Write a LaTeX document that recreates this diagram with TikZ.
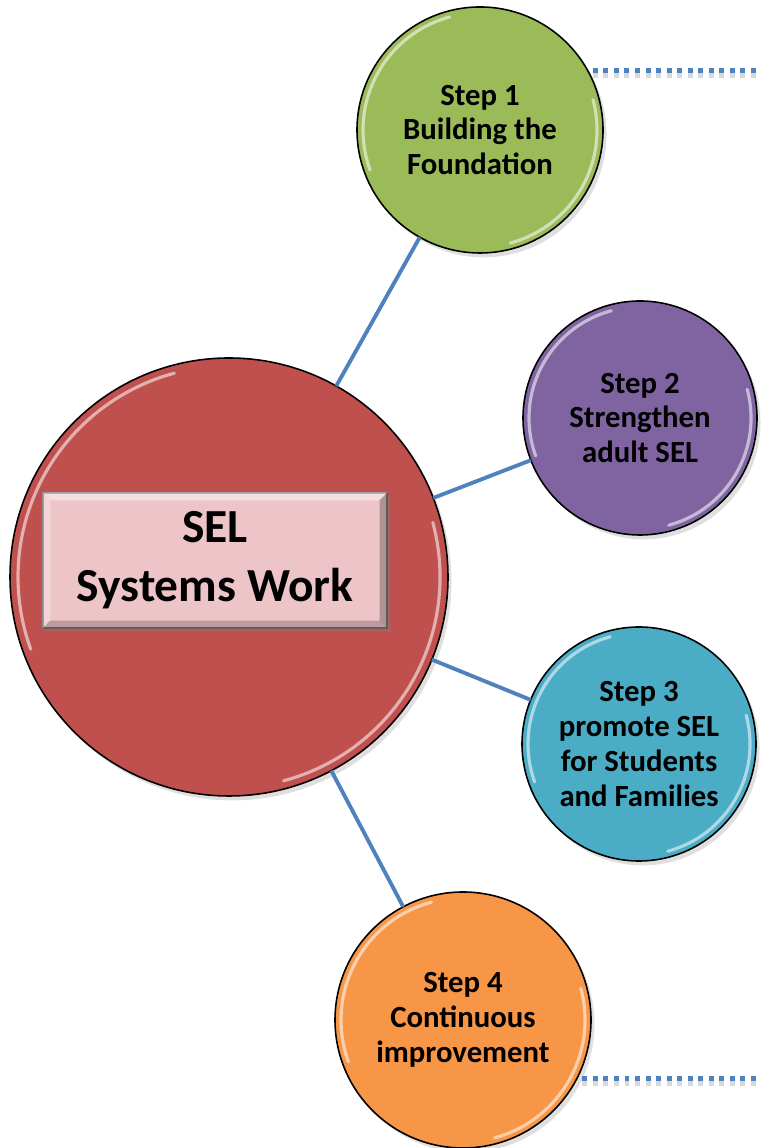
\documentclass[tikz,border=0pt]{standalone}
\usepackage{fontspec}
\setmainfont{Carlito}
\usetikzlibrary{shadows}

\definecolor{stepgreen}{HTML}{9BBB59}
\definecolor{steppurple}{HTML}{8064A2}
\definecolor{stepteal}{HTML}{4BACC6}
\definecolor{steporange}{HTML}{F79646}
\definecolor{hubred}{HTML}{C0504D}
\definecolor{linkblue}{HTML}{4F81BD}
\definecolor{plate}{HTML}{EDC4C7}

\begin{document}
\begin{tikzpicture}[
 bubble/.style={circle,draw=black,line width=0.9pt,inner sep=0pt,outer sep=0pt,align=center,
   font=\fontsize{17.5}{19.8}\selectfont\bfseries,
   drop shadow={shadow xshift=2pt,shadow yshift=-2.5pt,opacity=0.25}},
 platebox/.style={rectangle,fill=plate,draw=black!55,line width=0.6pt,inner sep=0pt,
   minimum width=6.88cm,minimum height=2.70cm,align=center,
   font=\fontsize{27}{33.5}\selectfont\bfseries,
   drop shadow={shadow xshift=2pt,shadow yshift=-2pt,opacity=0.3}},
 link/.style={draw=linkblue,line width=2.2pt},
 dots/.style={draw=linkblue,line width=2.8pt,dash pattern=on 2.8pt off 3.2pt},
 gloss/.style={white,opacity=0.55,line width=1.8pt,line cap=round}]
\useasboundingbox (0,0) rectangle (15.22,22.96);

% hub and the four steps
\node[bubble,fill=hubred,minimum size=8.76cm] (hub) at (4.58,11.42) {};
\node[bubble,fill=stepgreen,minimum size=4.92cm] (s1) at (9.60,20.36) {Step 1\\Building the\\Foundation};
\node[bubble,fill=steppurple,minimum size=4.68cm] (s2) at (12.80,14.60) {Step 2\\Strengthen\\adult SEL};
\node[bubble,fill=stepteal,minimum size=4.68cm] (s3) at (12.78,8.08) {Step 3\\promote SEL\\for Students\\and Families};
\node[bubble,fill=steporange,minimum size=5.12cm] (s4) at (9.26,2.56) {Step 4\\Continuous\\improvement};

\foreach \n/\r in {hub/4.22,s1/2.34,s2/2.22,s3/2.22,s4/2.44}{
  \draw[gloss] (\n.center) ++(105:\r) arc[start angle=105,end angle=200,radius=\r];
  \draw[gloss] (\n.center) ++(-75:\r) arc[start angle=-75,end angle=15,radius=\r];
}

% bevelled title plate
\node[platebox] (core) at (4.30,11.75) {SEL\\Systems Work};
\fill[white,opacity=0.45] (core.north west) -- (core.north east) -- ([shift={(-0.16,-0.16)}]core.north east) -- ([shift={(0.16,-0.16)}]core.north west) -- cycle;
\fill[white,opacity=0.3] (core.north west) -- ([shift={(0.16,-0.16)}]core.north west) -- ([shift={(0.16,0.16)}]core.south west) -- (core.south west) -- cycle;
\fill[black,opacity=0.2] (core.south west) -- (core.south east) -- ([shift={(-0.16,0.16)}]core.south east) -- ([shift={(0.16,0.16)}]core.south west) -- cycle;
\fill[black,opacity=0.25] (core.north east) -- ([shift={(-0.16,-0.16)}]core.north east) -- ([shift={(-0.16,0.16)}]core.south east) -- (core.south east) -- cycle;

\foreach \s in {s1,s2,s3,s4}
  \draw[link] (hub) -- (\s);

% dotted leaders running off the page
\coordinate (edge1) at (15.22,21.54);
\coordinate (edge4) at (15.22,1.40);
\draw[dots,draw=black,opacity=0.15,transform canvas={yshift=-3pt}] ([xshift=3pt]s1.29) -- (s1.29 -| edge1);
\draw[dots,draw=black,opacity=0.15,transform canvas={yshift=-3pt}] ([xshift=3pt]s4.-27) -- (s4.-27 -| edge4);
\draw[dots] ([xshift=3pt]s1.29) -- (s1.29 -| edge1);
\draw[dots] ([xshift=3pt]s4.-27) -- (s4.-27 -| edge4);
\end{tikzpicture}
\end{document}
